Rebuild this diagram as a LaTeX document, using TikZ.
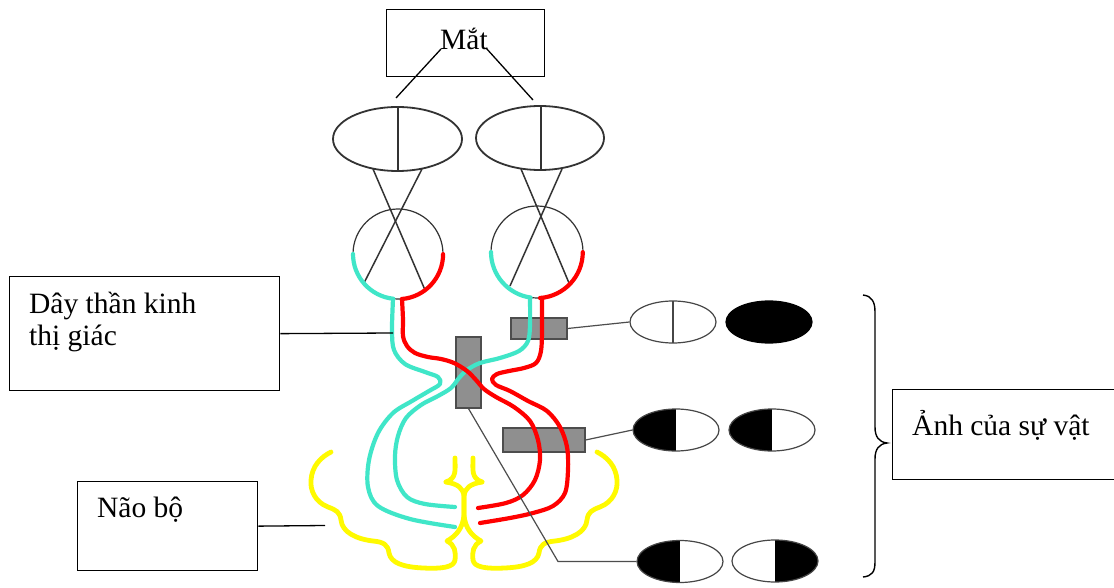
\documentclass[tikz,border=0pt]{standalone}
\usepackage{fontspec}
\setmainfont{Liberation Serif}
\usetikzlibrary{shapes.geometric}
\definecolor{nerveC}{RGB}{64,230,200}
\definecolor{nerveR}{RGB}{255,0,0}
\definecolor{brainY}{RGB}{255,250,0}
\definecolor{barFill}{RGB}{143,143,143}
\definecolor{barEdge}{RGB}{77,77,77}
\definecolor{ink}{RGB}{51,51,51}
\definecolor{imgedge}{RGB}{70,70,70}

% one half of the brain outline (right side); the left side is its mirror image
\newcommand\brainhalf{%
  \draw[brain] (473,458) .. controls (473,470) and (471,478) .. (482,482);
  \draw[brain] (482,482) .. controls (470,484) and (465,488) .. (464,496) -- (464,515)
    .. controls (465,528) and (472,536) .. (481,541)
    .. controls (473,545) and (472,552) .. (473,560)
    .. controls (474,567) and (485,569) .. (505,568)
    .. controls (525,567) and (537,563) .. (539,553)
    .. controls (540,545) and (544,542) .. (555,541)
    .. controls (572,539) and (586,532) .. (587,520)
    .. controls (588,512) and (592,510) .. (600,507)
    .. controls (613,502) and (618,490) .. (617,480)
    .. controls (616,466) and (607,457) .. (597,452);
}

\begin{document}
\begin{tikzpicture}[x=1pt,y=-1pt,
  labelbox/.style={draw=black, line width=1.3pt, rectangle, inner sep=0pt, anchor=north west},
  labeltext/.style={anchor=base west, inner sep=0pt, font=\fontsize{29.5}{32}\selectfont},
  thinline/.style={draw=black, line width=1.3pt},
  eyeline/.style={draw=ink, line width=1.5pt},
  nerveline/.style={line width=4.2pt, line cap=round, line join=round},
  brain/.style={draw=brainY, line width=4.8pt, line cap=round, line join=round},
  graybar/.style={rectangle, fill=barFill, draw=barEdge, line width=1.2pt, inner sep=0pt},
  link/.style={draw=barEdge, line width=1.2pt},
  imgE/.style={ellipse, draw=imgedge, line width=1.2pt, minimum width=86pt, minimum height=42pt, inner sep=0pt},
  leftblack/.style={path picture={\fill[black] (path picture bounding box.south west) rectangle (path picture bounding box.north);}},
  rightblack/.style={path picture={\fill[black] (path picture bounding box.south) rectangle (path picture bounding box.north east);}},
  splitline/.style={path picture={\draw[imgedge, line width=1.2pt] (path picture bounding box.south) -- (path picture bounding box.north);}}
]
\useasboundingbox (0,0) rectangle (1114,588);
\clip (0,0) rectangle (1114,588);
\fill[white] (0,0) rectangle (1114,588);

% ---- label boxes and their texts ----
\node[labelbox, minimum width=158, minimum height=67] (mbox) at (386,9) {};
\node[labeltext] (mtext) at (440,50) {Mắt};
\node[labelbox, minimum width=270, minimum height=114] (dbox) at (9,276) {};
\node[labeltext] (dtext) at (29,313) {\begin{tabular}[t]{@{}l@{}}Dây thần kinh\\thị giác\end{tabular}};
\node[labelbox, minimum width=180, minimum height=89] (nbox) at (77,481) {};
\node[labeltext] (ntext) at (97,517) {Não bộ};
\node[labelbox, minimum width=230, minimum height=90] (abox) at (892,389) {};
\node[labeltext] (atext) at (912,435) {Ảnh của sự vật};

% ---- eyes: lens, crossing rays, eyeball ----
\draw[eyeline, line width=1.8pt] (397.5,139) ellipse [x radius=64.5, y radius=32];
\draw[eyeline, line width=1.8pt] (540,138) ellipse [x radius=64, y radius=32];
\draw[eyeline] (398,107) -- (398,171);
\draw[eyeline] (541,106) -- (541,170);
\draw[eyeline] (373,169) -- (425,290);
\draw[eyeline] (422,169) -- (364,283);
\draw[eyeline] (521,169) -- (569,283);
\draw[eyeline] (562,169) -- (510,286);
\draw[eyeline, line width=1.2pt] (398,254) circle [radius=45];
\draw[eyeline, line width=1.2pt] (537,252) circle [radius=46];

% lines from the label to the two lenses
\coordinate (mL) at (441,49);
\coordinate (mR) at (486,48);
\coordinate (lensL) at (396,98);
\coordinate (lensR) at (533,100);
\draw[thinline] (mL) -- (lensL);
\draw[thinline] (mR) -- (lensR);

% ---- gray blocks on the optic pathway ----
\node[graybar, minimum width=25, minimum height=71] (chi) at (468.5,372.5) {};
\node[graybar, minimum width=56, minimum height=21] (barT) at (539,328.5) {};
\node[graybar, minimum width=82, minimum height=24] (barM) at (544,440) {};

% ---- brain outline ----
\brainhalf
\begin{scope}[shift={(928,0)}, xscale=-1]
  \brainhalf
\end{scope}

% ---- retina halves ----
\draw[nerveline, nerveC] (353,254) arc[start angle=180, end angle=96, radius=45];
\draw[nerveline, nerveR] (402,299) arc[start angle=85, end angle=0, radius=45];
\draw[nerveline, nerveC] (491,252) arc[start angle=180, end angle=98, radius=46];
\draw[nerveline, nerveR] (540,298) arc[start angle=86, end angle=0, radius=46];

% ---- optic nerves ----
% left eye, cyan half: stays on the left side
\draw[nerveline, nerveC] plot[smooth, tension=0.55] coordinates {
  (393,299) (392,330) (394,350) (405,364) (425,372) (438,377) (440,384) (429,391)
  (412,401) (393,413) (378,433) (369,460) (368,487) (378,506) (410,519) (455,527)};
% right eye, cyan half: crosses to the left side
\draw[nerveline, nerveC] plot[smooth, tension=0.55] coordinates {
  (530,298) (530,325) (528,341) (519,351) (500,358) (480,363) (467,370) (459,378)
  (451,388) (438,396) (421,405) (406,418) (398,436) (395,456) (397,480) (407,497)
  (425,504) (455,507)};
% left eye, red half: crosses to the right side
\draw[nerveline, nerveR] plot[smooth, tension=0.55] coordinates {
  (402,299) (403,320) (403,336) (407,346) (415,353) (428,357) (441,359) (454,363)
  (467,371) (476,380) (484,389) (496,397) (514,407) (530,421) (538,440) (540,460)
  (535,480) (523,495) (506,503) (478,508)};
% right eye, red half: stays on the right side
\draw[nerveline, nerveR] plot[smooth, tension=0.55] coordinates {
  (542,298) (542,330) (541,351) (536,363) (524,368) (509,371) (497,374) (492,379)
  (496,385) (510,391) (528,401) (547,411) (560,427) (567,447) (568,470) (565,493)
  (553,506) (533,513) (510,518) (480,523)};

% ---- images of the object ----
\node[imgE, splitline] (r1a) at (673,322) {};
\node[imgE, draw=black, fill=black] (r1b) at (769,322) {};
\node[imgE, leftblack] (r2a) at (676,430) {};
\node[imgE, leftblack] (r2b) at (772,430) {};
\node[imgE, leftblack] (r3a) at (680,561.5) {};
\node[imgE, rightblack] (r3b) at (775,561) {};

% links from the blocks to the images
\draw[link] (barT.east) -- (r1a.west);
\draw[link] (barM.east) -- (r2a.west);
\coordinate (bend) at (558,561.5);
\draw[link] (chi.south) -- (bend) -- (r3a.west);

% links from the labels
\coordinate (nerveTap) at (393,333);
\coordinate (brainTap) at (325,525.5);
\draw[thinline] (dbox.east) -- (nerveTap);
\draw[thinline] (nbox.east) -- (brainTap);

% brace gathering the images
\draw[line width=1.4pt] (863,295) .. controls (872,296) and (875,302) .. (875,312) -- (875,427)
  .. controls (875,437) and (879,442) .. (887,443)
  .. controls (879,444) and (875,449) .. (875,459) -- (875,562)
  .. controls (875,572) and (872,576) .. (863,577);
\end{tikzpicture}
\end{document}
